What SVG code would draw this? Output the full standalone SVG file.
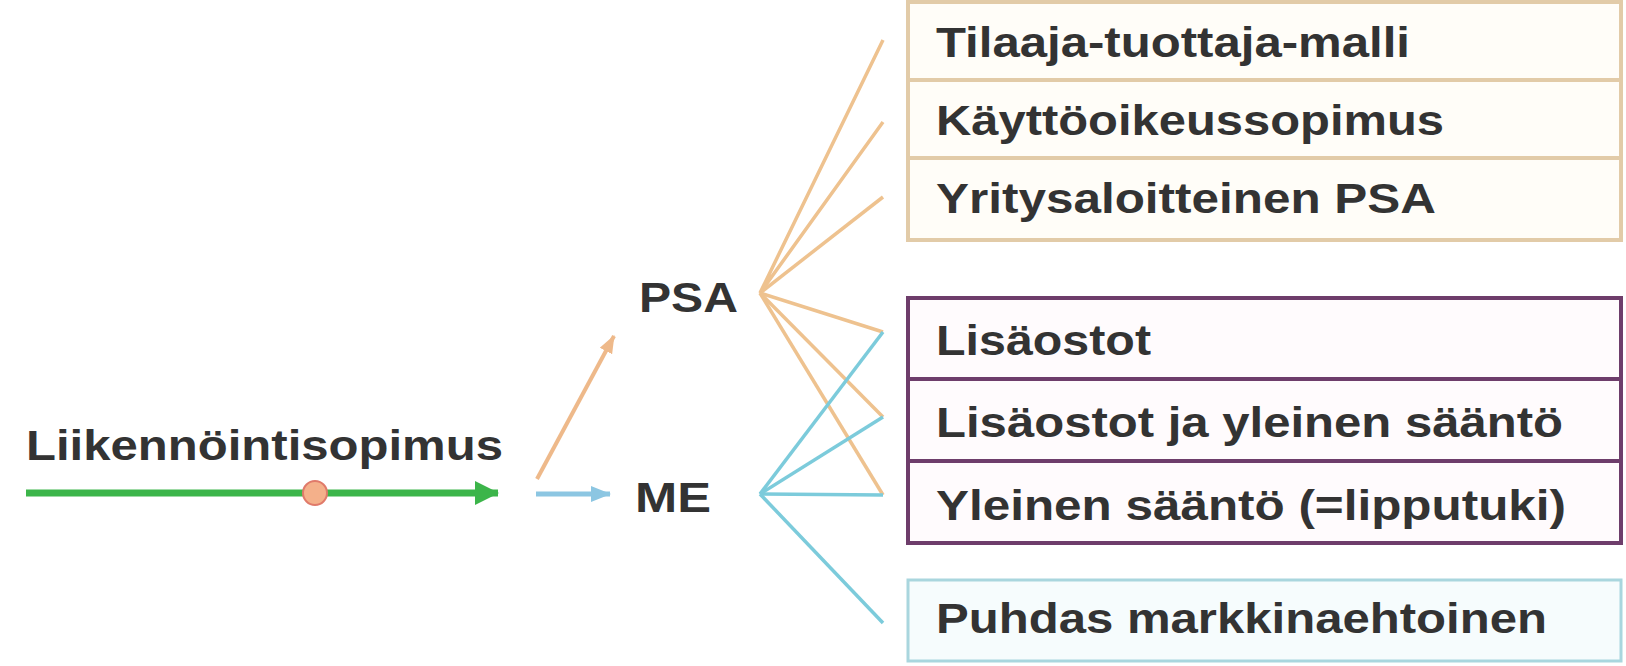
<svg xmlns="http://www.w3.org/2000/svg" width="1626" height="666" viewBox="0 0 1626 666">
<style>
text{font-family:"Liberation Sans",Arial,sans-serif;font-weight:bold;font-size:42px;fill:#333333;}
.tan{fill:#fffdf8;stroke:#e2cba8;stroke-width:4;}
.pur{fill:#fffbfd;stroke:#6e3d6b;stroke-width:4;}
.blu{fill:#f6fcfd;stroke:#a9d6de;stroke-width:3;}
.o{stroke:#eec28f;stroke-width:3.5;fill:none;}
.b{stroke:#7ccbdb;stroke-width:3.5;fill:none;}
</style>
<defs>
<marker id="ag" markerUnits="userSpaceOnUse" markerWidth="24" markerHeight="26" refX="23" refY="13" orient="auto"><path d="M0,1 L24,13 L0,25 Z" fill="#3cb54a"/></marker>
<marker id="ab" markerUnits="userSpaceOnUse" markerWidth="20" markerHeight="18" refX="19" refY="9" orient="auto"><path d="M0,1 L20,9 L0,17 Z" fill="#8cc6e2"/></marker>
<marker id="ao" markerUnits="userSpaceOnUse" markerWidth="18" markerHeight="16" refX="17" refY="8" orient="auto"><path d="M0,1 L18,8 L0,15 Z" fill="#eeb98a"/></marker>
</defs>
<rect width="1626" height="666" fill="#ffffff"/>
<g id="connectors">
<line x1="26" y1="493" x2="498" y2="493" stroke="#3cb54a" stroke-width="7" marker-end="url(#ag)"/>
<line x1="536" y1="494" x2="610" y2="494" stroke="#8cc6e2" stroke-width="5" marker-end="url(#ab)"/>
<line x1="537" y1="479" x2="614" y2="336" stroke="#eeb98a" stroke-width="4" marker-end="url(#ao)"/>
<polyline class="o" points="883,40 760,293 883,122"/>
<line class="o" x1="760" y1="293" x2="883" y2="197"/>
<line class="o" x1="760" y1="293" x2="883" y2="332"/>
<line class="o" x1="760" y1="293" x2="883" y2="417"/>
<line class="o" x1="760" y1="293" x2="883" y2="495"/>
<line class="b" x1="760" y1="494" x2="883" y2="332"/>
<line class="b" x1="760" y1="494" x2="883" y2="417"/>
<line class="b" x1="760" y1="494" x2="883" y2="495"/>
<line class="b" x1="760" y1="494" x2="883" y2="623"/>
</g>
<g id="dot"><circle cx="315" cy="493" r="12" fill="#f4b08a" stroke="#e07a6a" stroke-width="2"/></g>
<g id="liikennointisopimus"><text x="26" y="460" textLength="477" lengthAdjust="spacingAndGlyphs">Liikennöintisopimus</text></g>
<g id="psa"><text x="639" y="312" textLength="99" lengthAdjust="spacingAndGlyphs">PSA</text></g>
<g id="me"><text x="635" y="512" textLength="76" lengthAdjust="spacingAndGlyphs">ME</text></g>
<g id="tilaaja"><rect class="tan" x="908" y="2" width="713" height="78"/><text x="936" y="57" textLength="474" lengthAdjust="spacingAndGlyphs">Tilaaja-tuottaja-malli</text></g>
<g id="kayttooikeus"><rect class="tan" x="908" y="80" width="713" height="78"/><text x="936" y="135" textLength="508" lengthAdjust="spacingAndGlyphs">Käyttöoikeussopimus</text></g>
<g id="yritysaloitteinen"><rect class="tan" x="908" y="158" width="713" height="82"/><text x="936" y="213" textLength="500" lengthAdjust="spacingAndGlyphs">Yritysaloitteinen PSA</text></g>
<g id="lisaostot"><rect class="pur" x="908" y="298" width="713" height="81"/><text x="936" y="355" textLength="215" lengthAdjust="spacingAndGlyphs">Lisäostot</text></g>
<g id="lisaostot-yleinen"><rect class="pur" x="908" y="379" width="713" height="82"/><text x="936" y="437" textLength="627" lengthAdjust="spacingAndGlyphs">Lisäostot ja yleinen sääntö</text></g>
<g id="yleinen"><rect class="pur" x="908" y="461" width="713" height="82"/><text x="936" y="520" textLength="630" lengthAdjust="spacingAndGlyphs">Yleinen sääntö (=lipputuki)</text></g>
<g id="puhdas"><rect class="blu" x="908" y="580" width="713" height="81"/><text x="936" y="633" textLength="611" lengthAdjust="spacingAndGlyphs">Puhdas markkinaehtoinen</text></g>
</svg>
